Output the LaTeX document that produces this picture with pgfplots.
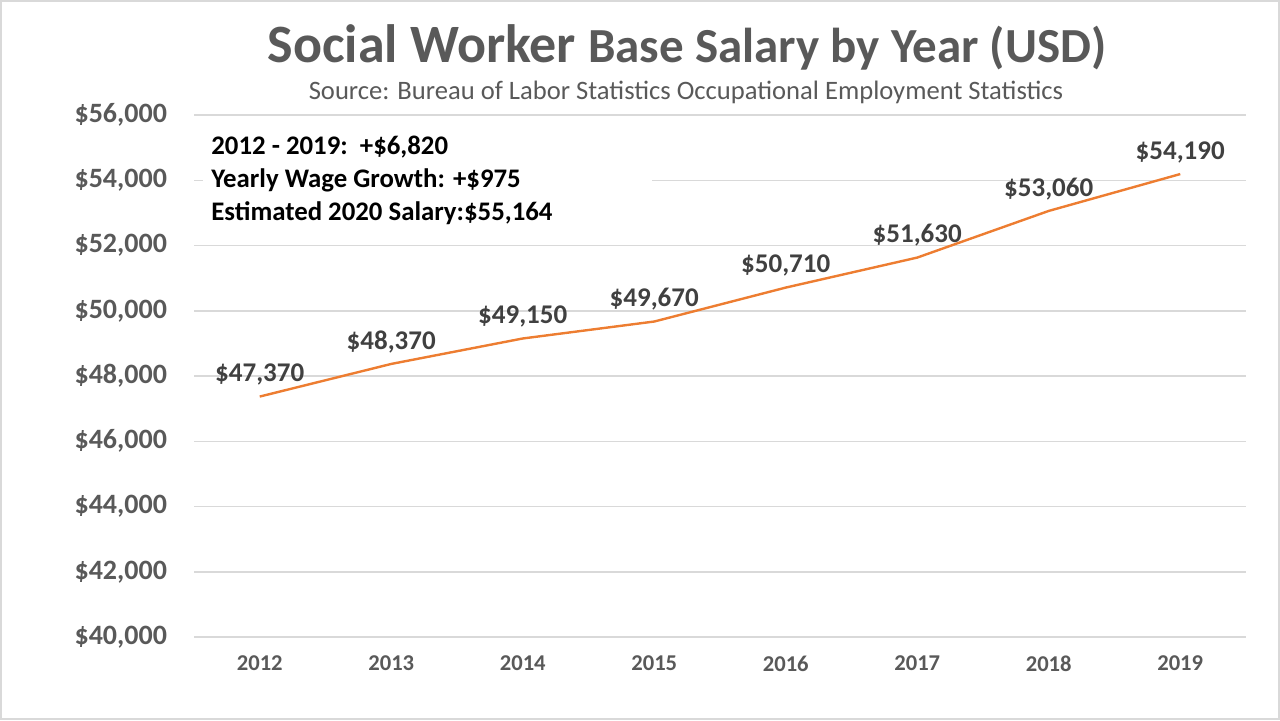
\documentclass[border=0pt]{standalone}
\usepackage{pgfplots}
\pgfplotsset{compat=1.18}
\usepackage{fontspec}
\setmainfont{Carlito}
\definecolor{lineorange}{HTML}{ED7D31}
\definecolor{tickgray}{HTML}{595959}
\definecolor{gridgray}{HTML}{D9D9D9}
\definecolor{labelgray}{HTML}{404040}
\begin{document}
\begin{tikzpicture}
\path[use as bounding box] (0,0) rectangle (640pt,360pt);
\draw[gridgray, line width=1pt] (0.5pt,0.5pt) rectangle (639.5pt,359.5pt);
\begin{axis}[
  at={(97pt,41.5pt)}, anchor=south west,
  width=526pt, height=261pt, scale only axis,
  xmin=-0.5, xmax=7.5, ymin=40000, ymax=56000,
  xtick={0,1,2,3,4,5,6,7},
  xticklabels={2012,2013,2014,2015,2016,2017,2018,2019},
  ytick={40000,42000,44000,46000,48000,50000,52000,54000,56000},
  scaled y ticks=false,
  yticklabel={\$\pgfmathprintnumber{\tick}},
  /pgf/number format/.cd, fixed, 1000 sep={,}, assume math mode=true,
  /pgfplots/.cd,
  ymajorgrids, grid style={gridgray, line width=0.75pt},
  axis line style={draw=none}, major tick length=0pt,
  xticklabel style={tickgray, font=\fontsize{11.3}{13}\selectfont\bfseries, yshift=-6pt},
  yticklabel style={tickgray, font=\fontsize{14}{16}\selectfont\bfseries, xshift=-10pt},
  clip=false,
]
\addplot[lineorange, line width=1.2pt,
  nodes near coords, point meta=explicit symbolic,
  every node near coord/.append style={font=\fontsize{13.5}{15}\selectfont\bfseries, text=labelgray, anchor=center, yshift=11pt}]
  table[meta=label] {
x y label
0 47370 \$47,370
1 48370 \$48,370
2 49150 \$49,150
3 49670 \$49,670
4 50710 \$50,710
5 51630 \$51,630
6 53060 \$53,060
7 54190 \$54,190
};
\end{axis}
\fill[white] (101.5pt,297.5pt) rectangle (326pt,242.5pt);
\node[inner sep=0pt, anchor=north west, align=left,
  font=\fontsize{13.4}{16.5}\selectfont\bfseries, text=black] at (105.5pt,292pt)
  {2012 - 2019:~~+\$6,820\\Yearly Wage Growth: +\$975\\Estimated 2020 Salary:\$55,164};
\node[text=tickgray, font=\bfseries] at (343.5pt,336.5pt)
  {\fontsize{27}{30}\selectfont Social Worker\ \fontsize{24.5}{28}\selectfont Base Salary by Year (USD)};
\node[text=tickgray, font=\fontsize{13.3}{15}\selectfont] at (343pt,314pt)
  {Source: Bureau of Labor Statistics Occupational Employment Statistics};
\end{tikzpicture}
\end{document}
